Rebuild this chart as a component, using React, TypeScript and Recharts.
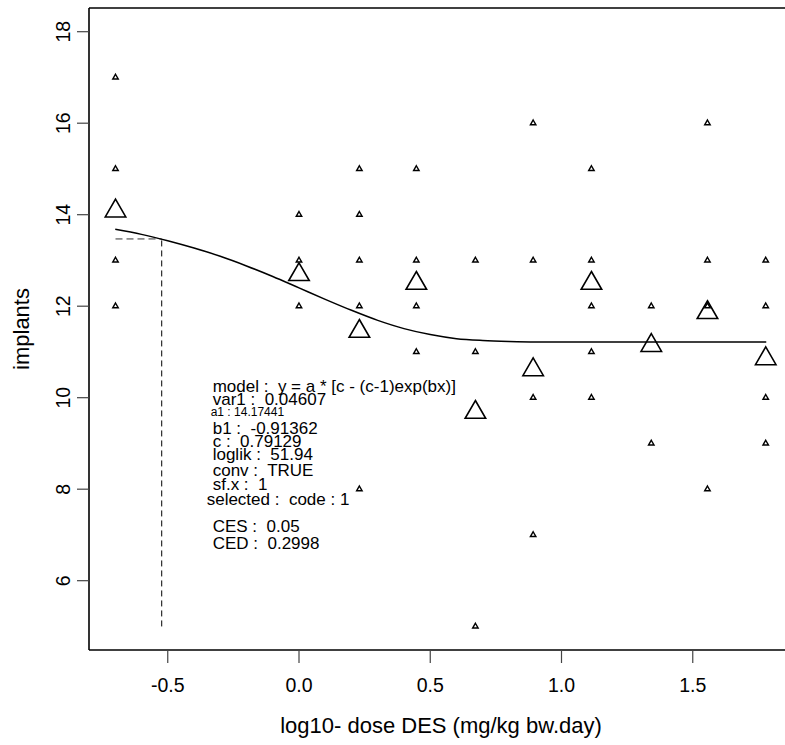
import { ComposedChart, Line, ReferenceLine, Scatter, XAxis, YAxis } from "recharts";

const FONT = "'Liberation Sans', Arial, Helvetica, sans-serif";

// log10 dose of each dose group
const doseLog = [-0.699, 0, 0.23, 0.447, 0.672, 0.892, 1.114, 1.342, 1.556, 1.778];

// individual observations per dose group (implants)
const groupValues = [
  [17, 15, 13, 12],
  [14, 13, 12],
  [15, 14, 13, 12, 8],
  [15, 13, 12, 11],
  [13, 11, 5],
  [16, 13, 10, 7],
  [15, 13, 12, 11, 10],
  [12, 9],
  [16, 13, 12, 8],
  [13, 12, 10, 9],
];

// group means (large triangles)
const groupMeans = [14.08, 12.69, 11.45, 12.5, 9.68, 10.61, 12.5, 11.14, 11.86, 10.85];

// fitted curve
const curveX = [-0.7, -0.6, -0.5, -0.4, -0.3, -0.2, -0.1, 0, 0.1, 0.2, 0.3, 0.4, 0.5, 0.6, 0.7, 0.8, 0.9, 1.0, 1.2, 1.4, 1.6, 1.78];
const curveY = [13.68, 13.57, 13.43, 13.27, 13.09, 12.88, 12.65, 12.4, 12.15, 11.91, 11.69, 11.51, 11.38, 11.29, 11.25, 11.23, 11.22, 11.22, 11.22, 11.22, 11.22, 11.22];

const CED_LOG = -0.523; // log10(0.2998)
const CES_LEVEL = 13.47;
const CED_BOTTOM = 5;

const xTicks = [-0.5, 0, 0.5, 1, 1.5];
const yTicks = [6, 8, 10, 12, 14, 16, 18];
const X_DOMAIN: [number, number] = [-0.8, 1.8514];
const Y_DOMAIN: [number, number] = [4.485, 18.518];

const annotation = [
  "model :  y = a * [c - (c-1)exp(bx)]",
  "var1 :  0.04607",
  "a1 : 14.17441",
  "b1 :  -0.91362",
  "c :  0.79129",
  "loglik :  51.94",
  "conv :  TRUE",
  "sf.x :  1",
  "selected :  code : 1",
  "CES :  0.05",
  "CED :  0.2998",
];

const points = doseLog.flatMap((x, i) => groupValues[i].map((y) => ({ x, y })));
const means = doseLog.map((x, i) => ({ x, y: groupMeans[i] }));
const curve = curveX.map((x, i) => ({ x, y: curveY[i] }));

const triangle = (side: number, sw: number) => (props: any) => {
  const { cx, cy } = props;
  if (cx == null || cy == null) return <g />;
  const h = (side * Math.sqrt(3)) / 2;
  const pts = `${cx},${cy - (2 * h) / 3} ${cx + side / 2},${cy + h / 3} ${cx - side / 2},${cy + h / 3}`;
  return <polygon points={pts} fill="none" stroke="#000" strokeWidth={sw} />;
};

const XTick = ({ x, y, payload }: any) => (
  <text x={x} y={y + 28.5} textAnchor="middle" fontSize={19.5} fontFamily={FONT} fill="#000">
    {Number(payload.value).toFixed(1)}
  </text>
);

const YTick = ({ x, y, payload }: any) => (
  <text
    x={x - 7}
    y={y}
    transform={`rotate(-90 ${x - 7} ${y})`}
    textAnchor="middle"
    fontSize={19.5}
    fontFamily={FONT}
    fill="#000"
  >
    {payload.value}
  </text>
);

// annotation layout: [x, baseline, fontSize]
const annotationLayout: [number, number, number][] = [
  [212.7, 391.7, 17],
  [212.7, 404.5, 17],
  [210.7, 415.5, 12],
  [212.7, 434, 17],
  [212.7, 447, 17],
  [212.7, 460, 17],
  [212.7, 476, 17],
  [212.7, 490, 17],
  [206.7, 504.5, 17],
  [212.7, 531.5, 17],
  [212.7, 549, 17],
];

export default function App() {
  return (
    <div style={{ position: "relative", width: 785, height: 745, background: "#fff" }}>
      <style>{`body{margin:0}`}</style>
      <ComposedChart width={785} height={745} margin={{ top: 8, right: 0, bottom: 0, left: 0 }}>
        <XAxis
          type="number"
          dataKey="x"
          domain={X_DOMAIN}
          ticks={xTicks}
          allowDataOverflow
          height={95}
          tickSize={13}
          tickMargin={0}
          tick={<XTick />}
          axisLine={{ stroke: "#000", strokeWidth: 1.6 }}
          tickLine={{ stroke: "#444", strokeWidth: 1.2 }}
        />
        <YAxis
          type="number"
          dataKey="y"
          domain={Y_DOMAIN}
          ticks={yTicks}
          allowDataOverflow
          width={89}
          tickSize={12}
          tickMargin={0}
          tick={<YTick />}
          axisLine={{ stroke: "#000", strokeWidth: 1.6 }}
          tickLine={{ stroke: "#444", strokeWidth: 1.2 }}
        />
        <ReferenceLine
          segment={[
            { x: X_DOMAIN[0], y: Y_DOMAIN[1] },
            { x: X_DOMAIN[1], y: Y_DOMAIN[1] },
          ]}
          stroke="#000"
          strokeWidth={1.6}
          ifOverflow="visible"
        />
        <ReferenceLine
          segment={[
            { x: CED_LOG, y: CED_BOTTOM },
            { x: CED_LOG, y: CES_LEVEL },
          ]}
          stroke="#000"
          strokeWidth={1}
          strokeDasharray="6 4"
        />
        <ReferenceLine
          segment={[
            { x: doseLog[0], y: CES_LEVEL },
            { x: CED_LOG, y: CES_LEVEL },
          ]}
          stroke="#333"
          strokeWidth={1}
          strokeDasharray="7 4"
        />
        <Line
          data={curve}
          dataKey="y"
          type="monotone"
          stroke="#000"
          strokeWidth={1.5}
          dot={false}
          activeDot={false}
          isAnimationActive={false}
        />
        <Scatter data={points} dataKey="y" shape={triangle(5.5, 1.4)} isAnimationActive={false} />
        <Scatter data={means} dataKey="y" shape={triangle(20.5, 1.6)} isAnimationActive={false} />
      </ComposedChart>
      <svg
        width={785}
        height={745}
        style={{ position: "absolute", left: 0, top: 0, pointerEvents: "none" }}
        fontFamily={FONT}
      >
        {annotation.map((line, i) => {
          const [x, y, size] = annotationLayout[i];
          return (
            <text key={i} x={x} y={y} fontSize={size} fill="#000" style={{ whiteSpace: "pre" }}>
              {line}
            </text>
          );
        })}
        <text x={441} y={733} textAnchor="middle" fontSize={22} fill="#000">
          log10- dose DES (mg/kg bw.day)
        </text>
        <text
          x={29}
          y={329}
          transform="rotate(-90 29 329)"
          textAnchor="middle"
          fontSize={22}
          fill="#000"
        >
          implants
        </text>
      </svg>
    </div>
  );
}
